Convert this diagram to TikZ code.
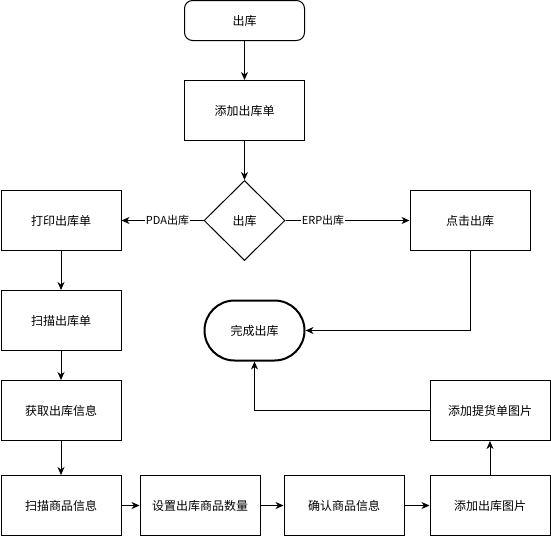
\documentclass[tikz,border=0pt]{standalone}
\usepackage{fontspec}
\setmainfont{Noto Sans CJK SC}
\usetikzlibrary{arrows.meta,shapes.geometric,shapes.misc}
\begin{document}
\begin{tikzpicture}[x=1pt,y=-1pt,
  box/.style={draw,line width=1pt,minimum width=120pt,minimum height=60pt,inner sep=0pt,font=\fontsize{12pt}{14pt}\selectfont},
  startbox/.style={box,rounded corners=8pt,minimum height=40pt},
  decision/.style={draw,line width=1pt,diamond,minimum width=81pt,minimum height=80pt,inner sep=0pt,font=\fontsize{12pt}{14pt}\selectfont},
  term/.style={draw,line width=2pt,rounded rectangle,minimum width=100pt,minimum height=60pt,inner sep=0pt,font=\fontsize{12pt}{14pt}\selectfont},
  arr/.style={draw,line width=1pt,-{Stealth[length=8pt,width=7pt,inset=2.5pt]}},
  lbl/.style={fill=white,inner sep=1pt,font=\fontsize{11pt}{13pt}\selectfont}]
\useasboundingbox (0,0) rectangle (551,536);
\node[startbox] (start) at (244.5,20.5) {出库};
\node[box] (add) at (244.5,110.5) {添加出库单};
\node[decision] (dec) at (244.5,220.5) {出库};
\node[box] (print) at (61,220.5) {打印出库单};
\node[box] (click) at (470,220.5) {点击出库};
\node[box] (scan) at (61,320.5) {扫描出库单};
\node[term] (done) at (254.5,330.5) {完成出库};
\node[box] (get) at (61,410.5) {获取出库信息};
\node[box] (pick) at (490,410.5) {添加提货单图片};
\node[box] (scang) at (61,505.5) {扫描商品信息};
\node[box] (setq) at (200,505.5) {设置出库商品数量};
\node[box] (conf) at (344,505.5) {确认商品信息};
\node[box] (pic) at (490,505.5) {添加出库图片};
\coordinate (pdal) at (167.5,220.5);
\coordinate (erpl) at (323,220.5);
\draw[arr] (start) -- (add);
\draw[arr] (add) -- (dec);
\draw[arr] (dec) -- (print);
\node[lbl] at (pdal) {PDA出库};
\draw[arr] (dec) -- (click);
\node[lbl] at (erpl) {ERP出库};
\draw[arr] (click.south) |- (done.east);
\draw[arr] (print) -- (scan);
\draw[arr] (scan) -- (get);
\draw[arr] (get) -- (scang);
\draw[arr] (scang) -- (setq);
\draw[arr] (setq) -- (conf);
\draw[arr] (conf) -- (pic);
\draw[arr] (pic) -- (pick);
\draw[arr] (pick.west) -| (done.south);
\end{tikzpicture}
\end{document}
